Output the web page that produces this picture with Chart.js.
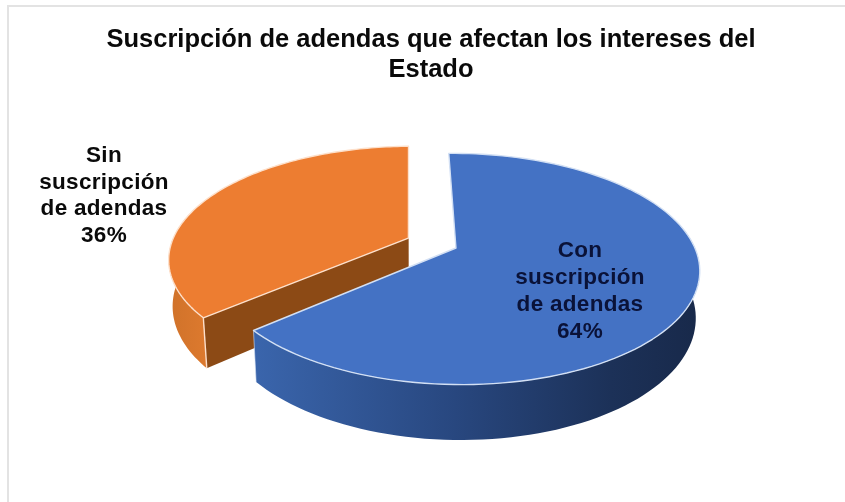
<!DOCTYPE html>
<html lang="es">
<head>
<meta charset="utf-8">
<title>Suscripción de adendas</title>
<script src="https://cdn.jsdelivr.net/npm/chart.js@4"></script>
<style>
  html, body { margin: 0; background: #fff; overflow: hidden; }
  #frame { position: absolute; left: 7px; top: 5px; right: 0; bottom: 0; border-left: 2px solid #e3e3e3; border-top: 2px solid #e3e3e3; }
  #wrap { position: absolute; left: 0; top: 0; width: 845px; height: 502px; }
</style>
</head>
<body>
<div id="frame"></div>
<div id="wrap"><canvas id="my-chart" width="845" height="502"></canvas></div>
<script>
'use strict';

//chart data
const titleLines = ['Suscripción de adendas que afectan los intereses del', 'Estado'];
const categories = [['Con', 'suscripción', 'de adendas'], ['Sin', 'suscripción', 'de adendas']];
const shares = [64, 36];
const topColors = ['#4472c4', '#ed7d31'];
const edgeColors = ['#d3e0f4', '#fde0cb'];

//projection of the pie disc: perspective tilt, extrusion and slice explosion
const view = { cx: 432, cy: 243, rx: 237, ry: 110, tilt: 0.18, depth: 45, shrink: 0.985, explode: 0.11 };

//label anchors per slice
const labelSpots = [{ x: 580, y: 251 }, { x: 104, y: 156 }];
const labelSteps = [26.9, 26.5];
const labelInks = ['#0a1238', '#0a0a0a'];

//disc point -> screen point, level 0 is the top face and 1 the bottom one
function project(u, v, level) {
  const w = 1 - view.tilt * v;
  const s = level ? view.shrink : 1;
  return {
    x: view.cx + view.rx * s * u / w,
    y: view.cy + (view.ry * v + (level ? view.depth : 0)) / w
  };
}

//list of screen points along the rim of a slice, frontOnly drops the far side
function rimPoints(arc, level, ox, oy, frontOnly) {
  const pts = [];
  const steps = 120;
  for (let i = 0; i <= steps; i++) {
    const a = arc.startAngle + (arc.endAngle - arc.startAngle) * i / steps;
    if (frontOnly && Math.sin(a) < -0.2) continue;
    pts.push(project(ox + Math.cos(a), oy + Math.sin(a), level));
  }
  return pts;
}

function tracePath(ctx, pts, close) {
  ctx.beginPath();
  pts.forEach((p, i) => (i ? ctx.lineTo(p.x, p.y) : ctx.moveTo(p.x, p.y)));
  if (close) ctx.closePath();
}

//side fills, blue runs dark towards the right
function wallFill(ctx, index) {
  const g = index === 0
    ? ctx.createLinearGradient(255, 0, 700, 0)
    : ctx.createLinearGradient(167, 0, 215, 0);
  if (index === 0) {
    g.addColorStop(0, '#3a65ac');
    g.addColorStop(0.45, '#28477f');
    g.addColorStop(0.8, '#1c3158');
    g.addColorStop(1, '#18294a');
  } else {
    g.addColorStop(0, '#cf722a');
    g.addColorStop(1, '#e07b2f');
  }
  return g;
}

const pie3d = {
  id: 'pie3d',
  beforeDatasetsDraw(chart) {
    const ctx = chart.ctx;
    const arcs = chart.getDatasetMeta(0).data;
    ctx.save();
    ctx.lineJoin = 'round';

    //back slice first so the front one overlaps it
    [1, 0].forEach((index) => {
      const arc = arcs[index];
      const mid = (arc.startAngle + arc.endAngle) / 2;
      const ox = view.explode * Math.cos(mid);
      const oy = view.explode * Math.sin(mid);
      const top = rimPoints(arc, 0, ox, oy);
      const bottom = rimPoints(arc, 1, ox, oy);
      const apexTop = project(ox, oy, 0);
      const apexBottom = project(ox, oy, 1);

      //cut walls, the big slice has its cuts facing away
      if (index === 1) {
        [[top[0], bottom[0]], [top[top.length - 1], bottom[bottom.length - 1]]].forEach((edge) => {
          tracePath(ctx, [apexTop, edge[0], edge[1], apexBottom], true);
          ctx.fillStyle = '#8c4a15';
          ctx.fill();
        });
      }

      //outer wall, near side of the rim only
      const wallTop = rimPoints(arc, 0, ox, oy, true);
      const wallBottom = rimPoints(arc, 1, ox, oy, true);
      tracePath(ctx, wallTop.concat(wallBottom.reverse()), true);
      ctx.fillStyle = wallFill(ctx, index);
      ctx.fill();

      //corner where the rim meets the cut
      const cornerIndex = index === 0 ? top.length - 1 : 0;
      tracePath(ctx, [top[cornerIndex], bottom[cornerIndex]], false);
      ctx.strokeStyle = edgeColors[index];
      ctx.lineWidth = index === 0 ? 0.6 : 1.4;
      ctx.stroke();

      //top face
      tracePath(ctx, [apexTop].concat(top), true);
      ctx.fillStyle = topColors[index];
      ctx.fill();
      ctx.strokeStyle = edgeColors[index];
      ctx.lineWidth = 1.4;
      ctx.stroke();
    });

    //slice labels
    ctx.font = 'bold 22.5px "Liberation Sans", Arial, sans-serif';
    ctx.letterSpacing = '0.3px';
    ctx.textAlign = 'center';
    ctx.textBaseline = 'middle';
    categories.forEach((lines, index) => {
      const text = lines.concat(shares[index] + '%');
      ctx.fillStyle = labelInks[index];
      text.forEach((line, i) => {
        ctx.fillText(line, labelSpots[index].x, labelSpots[index].y + i * labelSteps[index]);
      });
    });
    ctx.restore();
    return false;
  }
};

const ctx = document.getElementById('my-chart').getContext('2d');

const myObj = {
  type: 'pie',
  data: {
    labels: categories.map((lines) => lines.join(' ')),
    datasets: [{
      data: shares,
      backgroundColor: topColors,
      borderColor: edgeColors
    }]
  },
  options: {
    responsive: false,
    animation: false,
    rotation: -1,
    layout: { padding: { left: 17, right: 0 } },
    plugins: {
      legend: { display: false },
      tooltip: { enabled: false },
      title: {
        display: true,
        text: titleLines,
        color: '#0a0a0a',
        font: { family: '"Liberation Sans", Arial, sans-serif', size: 25.5, weight: 'bold', lineHeight: 1.18 },
        padding: { top: 25, bottom: 10 }
      }
    }
  },
  plugins: [pie3d]
};

const myChart = new Chart(ctx, myObj);
</script>
</body>
</html>
